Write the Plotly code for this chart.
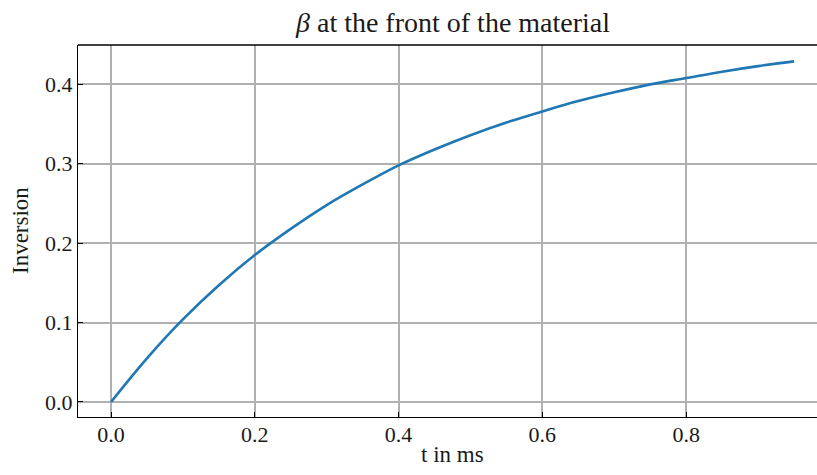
import plotly.graph_objects as go

t_ms = [0.0, 0.05, 0.10, 0.15, 0.20, 0.25, 0.30, 0.35, 0.40, 0.45, 0.50,
        0.55, 0.60, 0.65, 0.70, 0.75, 0.80, 0.85, 0.90, 0.95]
inversion = [0.0, 0.055, 0.104, 0.147, 0.185, 0.218, 0.248, 0.274, 0.298, 0.318,
             0.336, 0.352, 0.366, 0.379, 0.390, 0.400, 0.408, 0.416, 0.423, 0.429]
x_ticks = [0.0, 0.2, 0.4, 0.6, 0.8]
y_ticks = [0.0, 0.1, 0.2, 0.3, 0.4]

W, H = 817, 475
L, R, T, B = 78, 0, 45, 58
FONT = "Liberation Serif"
TXT = "#1a1a1a"

fig = go.Figure()
fig.add_trace(go.Scatter(x=t_ms, y=inversion, mode="lines",
                         line=dict(color="#1f77b4", width=2.6, shape="spline"),
                         showlegend=False, hoverinfo="skip"))

axis_common = dict(showline=True, linecolor="black", linewidth=1.4,
                   ticks="inside", ticklen=5, tickwidth=1.2, tickcolor="black",
                   showgrid=True, gridcolor="#b0b0b0", gridwidth=1.5,
                   zeroline=False, tickfont=dict(family=FONT, size=22, color=TXT))

fig.update_layout(
    width=W, height=H,
    margin=dict(l=L, r=R, t=T, b=B),
    paper_bgcolor="white", plot_bgcolor="white",
    xaxis=dict(range=[-0.0459, 0.982], tickvals=x_ticks, ticklabelstandoff=-3,
               ticktext=[f"{v:.1f}" for v in x_ticks], mirror=False, **axis_common),
    yaxis=dict(range=[-0.0189, 0.4496], tickvals=y_ticks,
               ticktext=[f"{v:.1f}" for v in y_ticks], mirror=False, **axis_common),
    shapes=[dict(type="line", xref="paper", yref="paper", x0=0, x1=1, y0=1, y1=1,
                 line=dict(color="black", width=1.4))],
    annotations=[
        dict(text="<i>β</i> at the front of the material", xref="paper", yref="paper",
             x=(452 - L) / (W - L - R), y=1, yshift=23, xanchor="center", yanchor="middle",
             showarrow=False, font=dict(family=FONT, size=28, color=TXT)),
        dict(text="t in ms", xref="paper", yref="paper",
             x=(452 - L) / (W - L - R), y=0, yshift=-37, xanchor="center", yanchor="middle",
             showarrow=False, font=dict(family=FONT, size=23, color=TXT)),
        dict(text="Inversion", xref="paper", yref="paper",
             x=0, xshift=-58, y=0.5, xanchor="center", yanchor="middle", textangle=-90,
             showarrow=False, font=dict(family=FONT, size=23, color=TXT)),
    ],
)

fig.write_html("out.html", config={"displayModeBar": False},
               post_script="document.body.style.margin='0';document.body.style.overflow='hidden';")
